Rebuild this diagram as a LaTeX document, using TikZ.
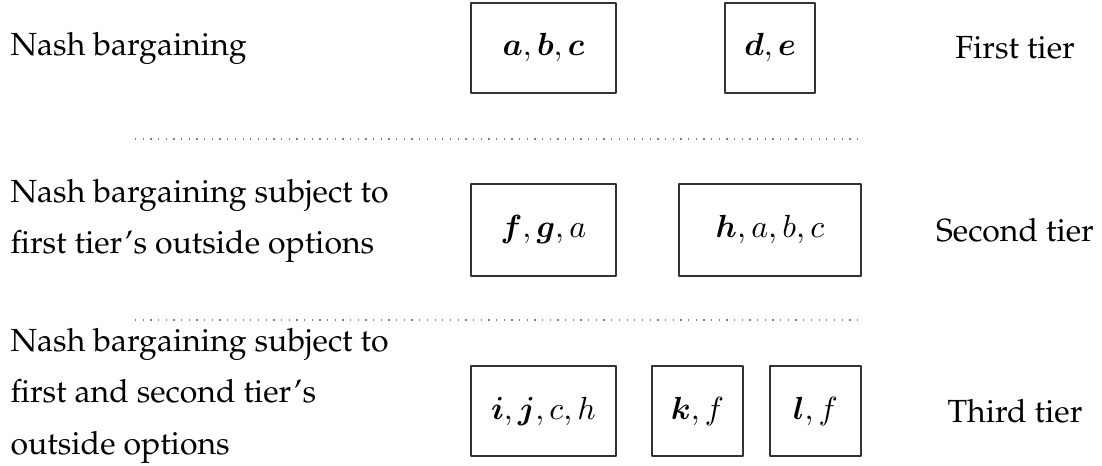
\documentclass[tikz,border=0pt]{standalone}
\usepackage[T1]{fontenc}
\renewcommand{\rmdefault}{ppl}
\usepackage{amsmath}
\usepackage{bm}
\begin{document}
\begin{tikzpicture}[x=0.3125pt,y=-0.3125pt,line join=round,
    tierbox/.style={draw=black!80,line width=0.4pt,inner sep=0pt,minimum height=28.2pt},
    leftlabel/.style={anchor=base west,align=left,inner sep=0pt,font=\fontsize{10}{16}\selectfont},
    tierlabel/.style={inner sep=0pt}]
    \useasboundingbox (0,0) rectangle (1102,466);

    % linke Beschreibung (Anker: Grundlinie der letzten Zeile)
    \node[leftlabel] (L1) at (10,56) {Nash bargaining};
    \node[leftlabel] (L2) at (10,254) {Nash bargaining subject to\\first tier's outside options};
    \node[leftlabel] (L3) at (10,454) {Nash bargaining subject to\\first and second tier's\\outside options};

    % Koalitionen
    \node[tierbox,minimum width=45.3pt] (abc) at (543.5,48) {$\bm{a},\bm{b},\bm{c}$};
    \node[tierbox,minimum width=28.2pt] (de) at (770,48) {$\bm{d},\bm{e}$};
    \node[tierbox,minimum width=45.3pt,minimum height=28.8pt] (fga) at (543.5,230) {$\bm{f},\bm{g},a$};
    \node[tierbox,minimum width=56.9pt,minimum height=28.8pt] (habc) at (770,230) {$\bm{h},a,b,c$};
    \node[tierbox,minimum width=45.3pt] (ijch) at (543.5,411) {$\bm{i},\bm{j},c,h$};
    \node[tierbox,minimum width=28.4pt] (kf) at (697.5,411) {$\bm{k},f$};
    \node[tierbox,minimum width=28.4pt] (lf) at (815.5,411) {$\bm{l},f$};

    % rechte Beschriftung
    \node[tierlabel] (T1) at (1015,48) {First tier};
    \node[tierlabel] (T2) at (1015,230) {Second tier};
    \node[tierlabel] (T3) at (1015,411) {Third tier};

    % Trennlinien
    \coordinate (S1a) at (135,139);
    \coordinate (S1b) at (858,139);
    \coordinate (S2a) at (135,320);
    \coordinate (S2b) at (858,320);
    \draw[dotted,gray] (S1a)--(S1b);
    \draw[dotted,gray] (S2a)--(S2b);
\end{tikzpicture}
\end{document}
